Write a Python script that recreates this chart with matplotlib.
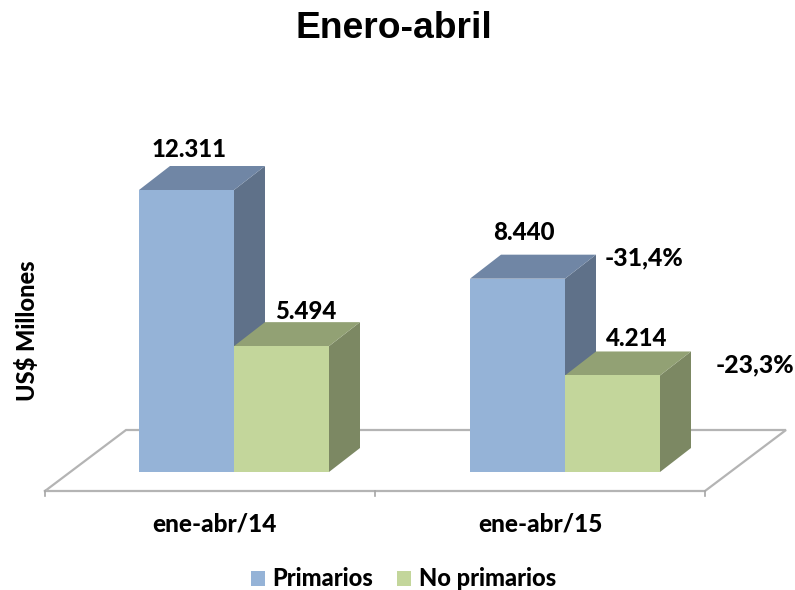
import matplotlib
matplotlib.use('Agg')
import matplotlib.pyplot as plt
from matplotlib.patches import Rectangle

plt.rcParams['font.family'] = ['Lato', 'DejaVu Sans']

periods = ['ene-abr/14', 'ene-abr/15']
series = ['Primarios', 'No primarios']
primarios = [12311, 8440]
no_primarios = [5494, 4214]
primarios_labels = ['12.311', '8.440']
no_primarios_labels = ['5.494', '4.214']
variation = ['-31,4%', '-23,3%']

front_colors = ['#95B3D7', '#C3D69B']
top_colors = ['#7086A5', '#92A174']
side_colors = ['#5F7189', '#7C8863']

# one x unit = distance between the two groups, y is in US$ millions
px_x = 331.0
px_y = 282.0 / 12311
bar_w = 95 / px_x
dx = 31 / px_x
dy = 24 / px_y

# label nudges in pixels, the labels were placed by hand in the original
prim_nudge = [(50, 17), (54, 22)]
noprim_nudge = [(72, 11), (72, 13)]
period_nudge = [4, 0]


def bar3d(ax, x, value, idx):
    # side and top first, front face on top of them
    ax.fill([x + bar_w, x + bar_w + dx, x + bar_w + dx, x + bar_w],
            [0, dy, value + dy, value], color=side_colors[idx], lw=0)
    ax.fill([x, x + dx, x + bar_w + dx, x + bar_w],
            [value, value + dy, value + dy, value], color=top_colors[idx], lw=0)
    ax.fill([x, x + bar_w, x + bar_w, x],
            [0, 0, value, value], color=front_colors[idx], lw=0)


fig = plt.figure(figsize=(7.95, 5.90), dpi=100)
ax = fig.add_axes([0, 0, 1, 1])
ax.set_xlim(-234 / px_x, (795 - 234) / px_x)
ax.set_ylim(-118 / px_y, 472 / px_y)
ax.axis('off')

# floor of the 3d box
floor_left = -189 / px_x
floor_y = -19 / px_y
floor_dx = 81 / px_x
floor_dy = 61 / px_y
ax.plot([floor_left, floor_left + 2 * 330 / px_x, floor_left + 2 * 330 / px_x + floor_dx,
         floor_left + floor_dx, floor_left],
        [floor_y, floor_y, floor_y + floor_dy, floor_y + floor_dy, floor_y],
        color='#B4B4B4', lw=1.6, solid_joinstyle='miter', zorder=1)
for i in range(3):
    tick_x = floor_left + i * 330 / px_x
    ax.plot([tick_x, tick_x], [floor_y, floor_y - 5 / px_y], color='#A6A6A6', lw=1.2, zorder=1)

for i in range(len(periods)):
    bar3d(ax, i - bar_w, primarios[i], 0)
    bar3d(ax, i, no_primarios[i], 1)

    ax.text(i - bar_w + prim_nudge[i][0] / px_x, primarios[i] + dy + prim_nudge[i][1] / px_y,
            primarios_labels[i], ha='center', va='center', fontsize=17.3, fontweight='black',
            color='black')
    ax.text(i + noprim_nudge[i][0] / px_x, no_primarios[i] + dy + noprim_nudge[i][1] / px_y,
            no_primarios_labels[i], ha='center', va='center', fontsize=17.3, fontweight='black',
            color='black')
    ax.text(floor_left + (i + 0.5) * 330 / px_x + period_nudge[i] / px_x, floor_y - 33 / px_y,
            periods[i], ha='center', va='center', fontsize=17.6, fontweight='black', color='black')

ax.text(1 + 79 / px_x, primarios[1] + dy - 3 / px_y, variation[0],
        ha='center', va='center', fontsize=17.8, fontweight='black', color='black')
ax.text(1 + 190 / px_x, no_primarios[1] + 11 / px_y, variation[1],
        ha='center', va='center', fontsize=17.8, fontweight='black', color='black')

fig.text(27 / 795, 1 - 331 / 590, 'US$ Millones', rotation=90, ha='center', va='center',
         fontsize=17, fontweight='black', color='black')
fig.text(394 / 795, 1 - 29 / 590, 'Enero-abril', ha='center', va='center',
         fontsize=26.8, fontweight='bold', family='Liberation Sans', color='black')

# legend
legend_x = [251, 397]
text_x = [272, 419]
for i in range(len(series)):
    fig.patches.append(Rectangle((legend_x[i] / 795, 1 - 586 / 590), 14 / 795, 15 / 590,
                                 transform=fig.transFigure, color=front_colors[i], lw=0))
    fig.text(text_x[i] / 795, 1 - 579 / 590, series[i], ha='left', va='center',
             fontsize=17, fontweight='black', color='black')

fig.savefig('out.png', dpi=100)
